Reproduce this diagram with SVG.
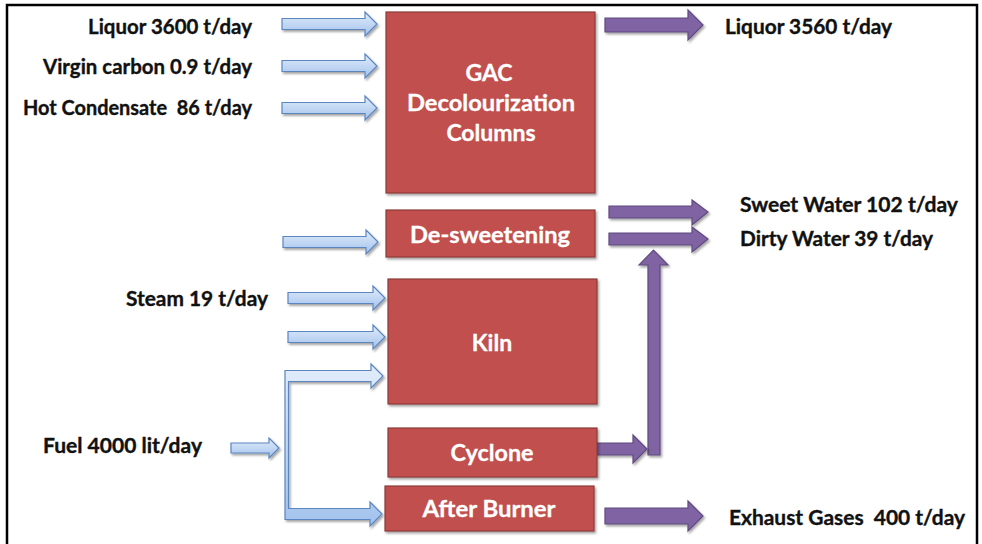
<svg xmlns="http://www.w3.org/2000/svg" width="982" height="544" viewBox="0 0 982 544">
<defs>
<linearGradient id="bg" x1="0" y1="0" x2="0" y2="1">
<stop offset="0" stop-color="#e2edfb"/>
<stop offset="1" stop-color="#a3c2ec"/>
</linearGradient>
<filter id="sh" x="-5%" y="-5%" width="115%" height="120%">
<feDropShadow dx="1.5" dy="2" stdDeviation="1.2" flood-color="#000" flood-opacity="0.35"/>
</filter>
</defs>
<style>
.frame{fill:#fff;stroke:#000;stroke-width:2.5}
.box{fill:#c0504d;stroke:#8c3a38;stroke-width:1.2;filter:url(#sh)}
.blue{fill:url(#bg);stroke:#5b86c0;stroke-width:1.2;filter:url(#sh)}
.pur{fill:#8064a2;stroke:#5f4a7e;stroke-width:1.2;filter:url(#sh)}
.lbl{font-family:Lato,"Open Sans","Liberation Sans",sans-serif;font-weight:bold;font-size:20px;fill:#111;stroke:#111;stroke-width:0.35}
.bl{font-family:Lato,"Open Sans","Liberation Sans",sans-serif;font-weight:bold;font-size:23px;fill:#fff;stroke:#fff;stroke-width:0.3;text-anchor:middle}
</style>
<rect class="frame" x="7" y="5" width="970" height="545"/>

<g id="connectors">
<path class="blue" d="M282,18.5 H365 V12 L377,24 L365,36 V29.5 H282 Z"/>
<path class="blue" d="M282,60.5 H365 V54 L377,66 L365,78 V71.5 H282 Z"/>
<path class="blue" d="M282,102.5 H365 V96 L377,108 L365,120 V113.5 H282 Z"/>
<path class="blue" d="M283,236.5 H366 V230 L378,242 L366,254 V247.5 H283 Z"/>
<path class="blue" d="M288,292.5 H373 V286 L385,298 L373,310 V303.5 H288 Z"/>
<path class="blue" d="M288,331.5 H373 V325 L385,337 L373,349 V342.5 H288 Z"/>
<path class="blue" d="M231,443 H269 V438 L279,448 L269,458 V453 H231 Z"/>
<path class="blue" d="M285,370.5 H371 V364 L383,376 L371,388 V381.5 H288.5 V508.5 H370 V502 L382,514 L370,526 V519.5 H285 Z"/>
<path class="pur" d="M605,18 H688 V10 L703,25 L688,40 V32 H605 Z"/>
<path class="pur" d="M609,206 H692 V200 L708,212 L692,225 V218 H609 Z"/>
<path class="pur" d="M609,233 H692 V227 L708,239 L692,252 V245 H609 Z"/>
<path class="pur" d="M648,455 V265 H639 L653.5,250 L668,265 H660 V455 Z"/>
<path class="pur" d="M597,443 H633 V435 L647,449 L633,463 V455 H597 Z"/>
<path class="pur" d="M605,508 H688 V501 L703,516 L688,531 V524 H605 Z"/>
</g>

<g id="gac">
<rect class="box" x="386" y="12" width="209" height="181"/>
<text class="bl" x="489" y="81">GAC</text>
<text class="bl" x="491" y="111" textLength="168" lengthAdjust="spacingAndGlyphs">Decolourization</text>
<text class="bl" x="491" y="141">Columns</text>
</g>
<g id="desweetening">
<rect class="box" x="386" y="210" width="209" height="47"/>
<text class="bl" x="490" y="243" textLength="160" lengthAdjust="spacingAndGlyphs">De-sweetening</text>
</g>
<g id="kiln">
<rect class="box" x="388" y="279" width="209" height="125"/>
<text class="bl" x="492" y="351">Kiln</text>
</g>
<g id="cyclone">
<rect class="box" x="388" y="428" width="209" height="49"/>
<text class="bl" x="492" y="461" textLength="83" lengthAdjust="spacingAndGlyphs">Cyclone</text>
</g>
<g id="afterburner">
<rect class="box" x="385" y="486" width="209" height="45"/>
<text class="bl" x="489" y="517" textLength="133" lengthAdjust="spacingAndGlyphs">After Burner</text>
</g>

<g id="labels">
<text class="lbl" x="88" y="34" textLength="164" lengthAdjust="spacingAndGlyphs">Liquor 3600 t/day</text>
<text class="lbl" x="43" y="74" textLength="209" lengthAdjust="spacingAndGlyphs">Virgin carbon 0.9 t/day</text>
<text class="lbl" x="23" y="115" textLength="229" lengthAdjust="spacingAndGlyphs">Hot Condensate&#160; 86 t/day</text>
<text class="lbl" x="126" y="306" textLength="142" lengthAdjust="spacingAndGlyphs">Steam 19 t/day</text>
<text class="lbl" x="43" y="453" textLength="159" lengthAdjust="spacingAndGlyphs">Fuel 4000 lit/day</text>
<text class="lbl" x="725" y="34" textLength="167" lengthAdjust="spacingAndGlyphs">Liquor 3560 t/day</text>
<text class="lbl" x="740" y="212" textLength="218" lengthAdjust="spacingAndGlyphs">Sweet Water 102 t/day</text>
<text class="lbl" x="740" y="246" textLength="193" lengthAdjust="spacingAndGlyphs">Dirty Water 39 t/day</text>
<text class="lbl" x="729" y="525" textLength="236" lengthAdjust="spacingAndGlyphs">Exhaust Gases&#160; 400 t/day</text>
</g>
</svg>
